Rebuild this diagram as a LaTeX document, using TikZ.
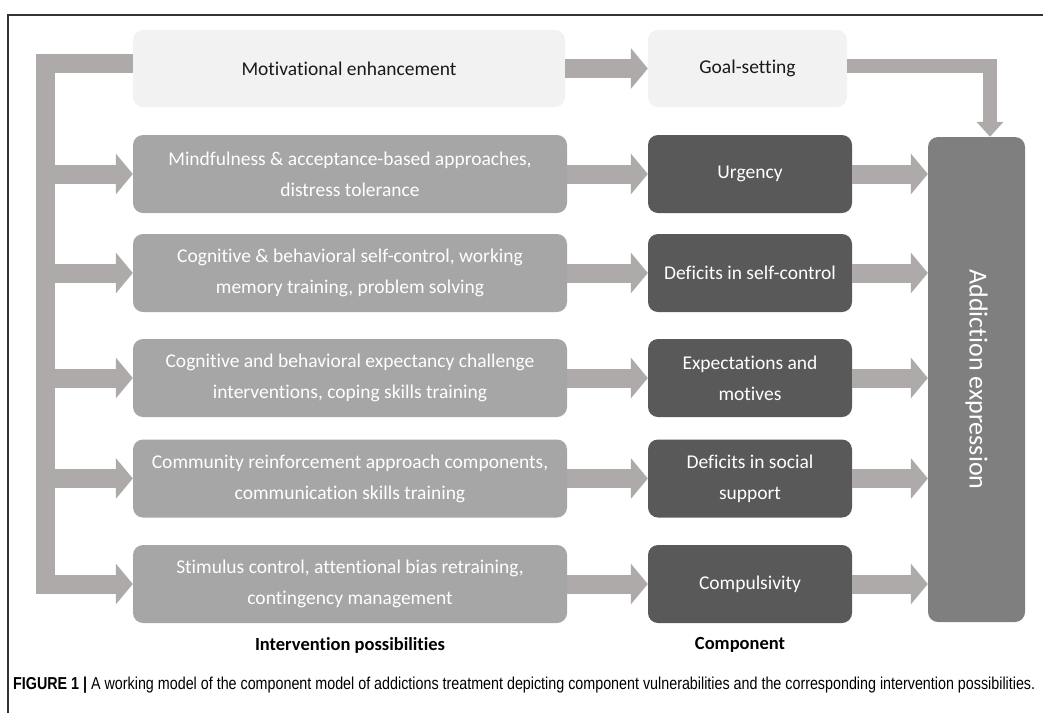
\documentclass[tikz,border=0pt]{standalone}
\usepackage{fontspec}
\setmainfont{Carlito}[Ligatures=NoCommon]
\newfontfamily\capfont{Liberation Sans}
\usetikzlibrary{arrows.meta}
\definecolor{arrowgray}{HTML}{AEAAAA}
\definecolor{boxlight}{HTML}{F2F2F2}
\definecolor{boxmid}{HTML}{A6A6A6}
\definecolor{boxdark}{HTML}{595959}
\definecolor{boxmain}{HTML}{7F7F7F}
\definecolor{framegray}{HTML}{333333}
\tikzset{box/.style = {rounded corners=10pt, inner sep=0pt, align=center, font=\fontsize{19.5}{31}\selectfont}}
\tikzset{lightbox/.style = {box, fill=boxlight, text=black!90, minimum height=77pt}}
\tikzset{interbox/.style = {box, fill=boxmid, text=white, minimum width=434pt, minimum height=78pt}}
\tikzset{compbox/.style = {box, fill=boxdark, text=white, minimum width=204pt, minimum height=78pt}}
\tikzset{blockarrow/.style = {draw=arrowgray, line width=19pt, line join=miter, -{Triangle[width=40pt,length=17pt]}}}
\tikzset{thinarrow/.style = {draw=arrowgray, line width=14pt, line join=miter, -{Triangle[width=26pt,length=15pt]}}}
\tikzset{colhead/.style = {inner sep=0pt, font=\fontsize{18.5}{20}\selectfont\bfseries}}

\begin{document}
\begin{tikzpicture}[x=1pt, y=-1pt]
	\useasboundingbox (0,0) rectangle (1043,713);
	\draw [framegray, line width=1.2pt] (8,713) -- (8,15) -- (1043,15);
	% top row
	\node [lightbox, minimum width=432pt] (motiv) at (349,68.5) {Motivational enhancement};
	\node [lightbox, minimum width=199pt] (goal) at (747.5,68.5) {Goal-setting};
	% interventions
	\node [interbox] (mind) at (350,174) {Mindfulness \& acceptance-based approaches,\\ distress tolerance};
	\node [interbox] (cogsc) at (350,273) {Cognitive \& behavioral self-control, working\\ memory training, problem solving};
	\node [interbox] (cogexp) at (350,378) {Cognitive and behavioral expectancy challenge\\ interventions, coping skills training};
	\node [interbox] (commun) at (350,478.5) {Community reinforcement approach components,\\ communication skills training};
	\node [interbox] (stim) at (350,584) {Stimulus control, attentional bias retraining,\\ contingency management};
	% components
	\node [compbox] (urg) at (750,174) {Urgency};
	\node [compbox] (defsc) at (750,273) {Deficits in self-control};
	\node [compbox] (expmot) at (750,378) {Expectations and\\ motives};
	\node [compbox] (defsoc) at (750,478.5) {Deficits in social\\ support};
	\node [compbox] (compul) at (750,584) {Compulsivity};
	\node [box, fill=boxmain, text=white, minimum width=97pt, minimum height=485pt] (addexp) at (976.5,379.5) {};
	\node [rotate=-90, text=white, font=\fontsize{26}{28}\selectfont] (addlbl) at (addexp.center) {Addiction expression};
	% column heads and caption
	\node [colhead] (lblint) at (350,645) {Intervention possibilities};
	\node [colhead] (lblcomp) at (740,645) {Component};
	\node [anchor=west, inner sep=0pt] (caption) at (13,685) {\resizebox{1022pt}{12.5pt}{\capfont\textbf{FIGURE 1 |} A working model of the component model of addictions treatment depicting component vulnerabilities and the corresponding intervention possibilities.}};
	% feedback from motivational enhancement
	\coordinate (fbtop) at (45,63.5);
	\draw [blockarrow] (fbtop -| motiv.west) -- (fbtop) -- (fbtop |- stim.west) -- (stim.west);
	\draw [blockarrow] (fbtop |- mind.west) -- (mind.west);
	\draw [blockarrow] (fbtop |- cogsc.west) -- (cogsc.west);
	\draw [blockarrow] (fbtop |- cogexp.west) -- (cogexp.west);
	\draw [blockarrow] (fbtop |- commun.west) -- (commun.west);
	% to the components
	\draw [blockarrow] (motiv) -- (goal);
	\draw [blockarrow] (mind) -- (urg);
	\draw [blockarrow] (cogsc) -- (defsc);
	\draw [blockarrow] (cogexp) -- (expmot);
	\draw [blockarrow] (commun) -- (defsoc);
	\draw [blockarrow] (stim) -- (compul);
	% to addiction expression
	\coordinate (gcorner) at (990,66);
	\draw [thinarrow] (gcorner -| goal.east) -- (gcorner) -- (gcorner |- addexp.north);
	\draw [blockarrow] (urg.east) -- (urg.east -| addexp.west);
	\draw [blockarrow] (defsc.east) -- (defsc.east -| addexp.west);
	\draw [blockarrow] (expmot.east) -- (expmot.east -| addexp.west);
	\draw [blockarrow] (defsoc.east) -- (defsoc.east -| addexp.west);
	\draw [blockarrow] (compul.east) -- (compul.east -| addexp.west);
\end{tikzpicture}
\end{document}
